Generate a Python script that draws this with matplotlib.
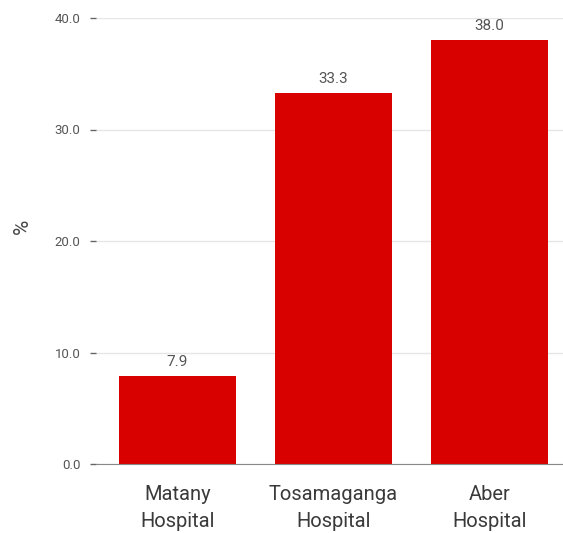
import matplotlib.pyplot as plt

# --- DATA ---
hospitals = ["Matany\nHospital", "Tosamaganga\nHospital", "Aber\nHospital"]
values = [7.9, 33.3, 38.0]
yticks = [0, 10, 20, 30, 40]

plt.rcParams['font.family'] = ['Roboto', 'DejaVu Sans']

fig = plt.figure(figsize=(5.63, 5.33), dpi=100)
ax = fig.add_axes([96 / 563, 1 - 464 / 533, 1 - 96 / 563, (464 - 18) / 533])

x = range(len(hospitals))
bars = ax.bar(x, values, width=0.75, color="#d90000", zorder=3)

for b, v in zip(bars, values):
    ax.annotate(f"{v:.1f}", xy=(b.get_x() + b.get_width() / 2, v),
                xytext=(0, 5), textcoords="offset points",
                ha="center", va="bottom", fontsize=11, color="#555555")

ax.set_ylim(0, 40)
ax.set_xlim(-0.52, 2.47)
ax.set_yticks(yticks)
ax.set_yticklabels([f"{t:.1f}" for t in yticks], fontsize=9.5, color="#555555")
ax.set_xticks(list(x))
ax.set_xticklabels(hospitals, fontsize=14.5, color="#3a3a3a", linespacing=1.55)
ax.tick_params(axis="x", length=0, pad=15)
ax.tick_params(axis="y", length=4, width=1, color="#666666", pad=7)
ax.grid(axis="y", color="#e6e6e6", linewidth=1, zorder=0)

for s in ["top", "right", "left"]:
    ax.spines[s].set_visible(False)
ax.spines["bottom"].set_color("#888888")
ax.spines["bottom"].set_zorder(4)

fig.text(22 / 563, 1 - 226 / 533, "%", rotation=90, fontsize=15, color="#444444",
         ha="center", va="center")

fig.savefig("out.png", dpi=100)
